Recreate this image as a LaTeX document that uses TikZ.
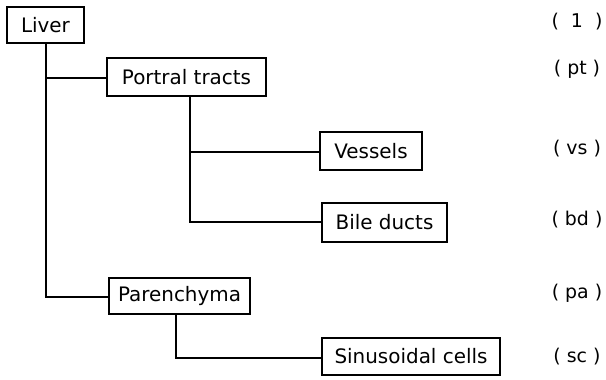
\documentclass[tikz,border=0pt]{standalone}
\usepackage{fontspec}
\setmainfont{DejaVu Sans}
\begin{document}
\begin{tikzpicture}[x=1bp,y=-1bp,
  box/.style={draw,line width=1.8bp,inner sep=0pt,font=\fontsize{20}{23}\selectfont},
  code/.style={inner sep=0pt,anchor=center,font=\fontsize{19}{22}\selectfont},
  link/.style={line width=1.9bp}]
\useasboundingbox (0,0) rectangle (606,379);
\node[box,minimum width=77bp,minimum height=36bp] (liver) at (45.5,25) {Liver};
\node[box,minimum width=159bp,minimum height=38bp] (pt) at (186.5,77) {Portral tracts};
\node[box,minimum width=102bp,minimum height=38bp] (vs) at (371,151) {Vessels};
\node[box,minimum width=125bp,minimum height=39bp] (bd) at (384.5,222.5) {Bile ducts};
\node[box,minimum width=141bp,minimum height=36bp] (pa) at (179.5,296) {Parenchyma};
\node[box,minimum width=178bp,minimum height=37bp] (sc) at (411,356.5) {Sinusoidal cells};
\node[code] (l1) at (577,22) {(\ \ 1\ \ )};
\node[code] (l2) at (577,69) {(\ pt\ )};
\node[code] (l3) at (577,149) {(\ vs\ )};
\node[code] (l4) at (577,220) {(\ bd\ )};
\node[code] (l5) at (577,293) {(\ pa\ )};
\node[code] (l6) at (577,357) {(\ sc\ )};
\coordinate (a1) at (46,78);
\coordinate (a2) at (46,297);
\coordinate (b1) at (190,152);
\coordinate (b2) at (190,222);
\coordinate (c1) at (176,358);
\draw[link] (liver.south -| a1) -- (a2) -- (pa.west |- a2);
\draw[link] (a1) -- (pt.west |- a1);
\draw[link] (pt.south -| b1) -- (b2) -- (bd.west |- b2);
\draw[link] (b1) -- (vs.west |- b1);
\draw[link] (pa.south -| c1) -- (c1) -- (sc.west |- c1);
\end{tikzpicture}
\end{document}
